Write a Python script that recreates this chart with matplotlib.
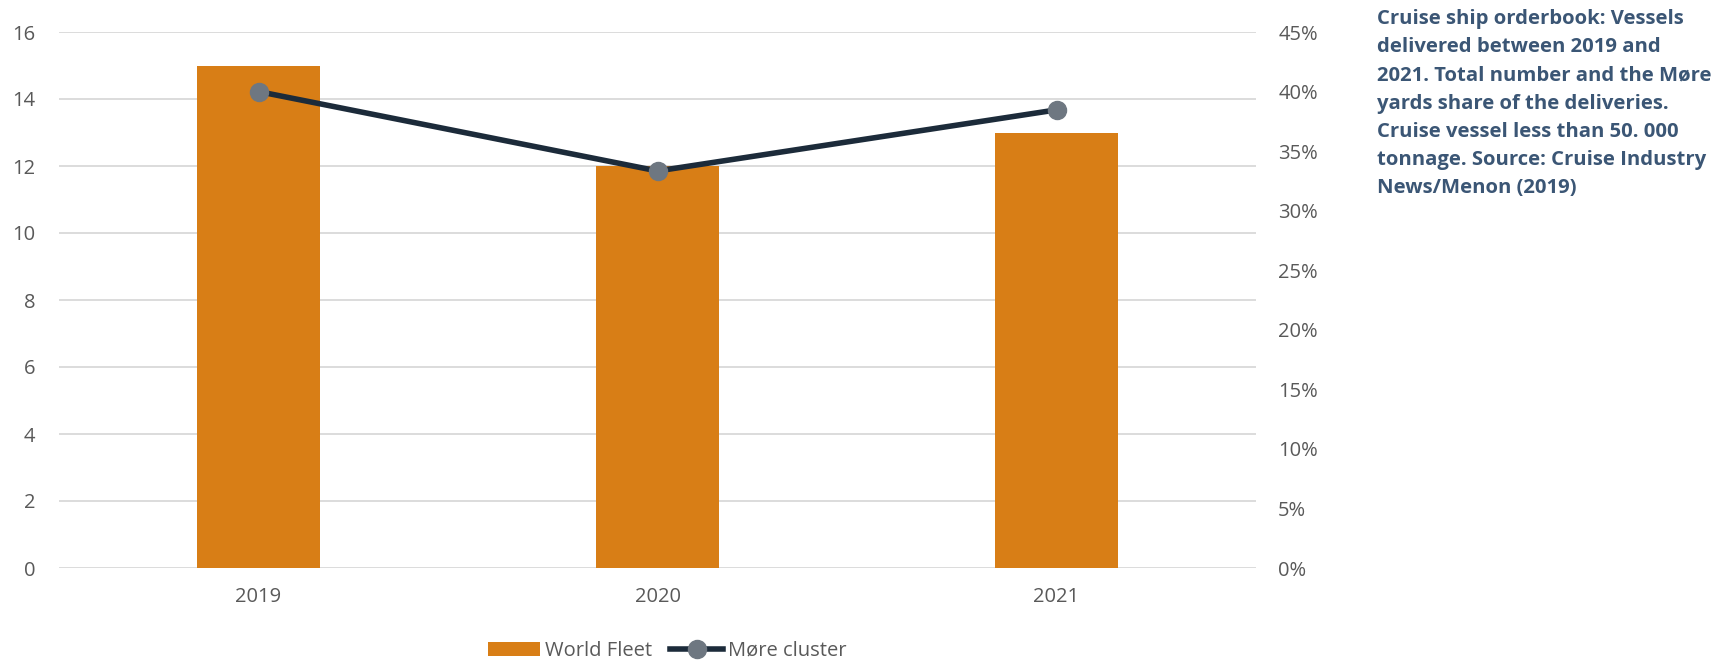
import matplotlib.pyplot as plt
from matplotlib.ticker import PercentFormatter

years = ["2019", "2020", "2021"]
world_fleet = [15, 12, 13]
more_share = [6 / 15 * 100, 4 / 12 * 100, 5 / 13 * 100]

note = ("Cruise ship orderbook: Vessels\n"
        "delivered between 2019 and\n"
        "2021. Total number and the Møre\n"
        "yards share of the deliveries.\n"
        "Cruise vessel less than 50. 000\n"
        "tonnage. Source: Cruise Industry\n"
        "News/Menon (2019)")

plt.rcParams['font.family'] = ['Open Sans', 'DejaVu Sans']

fig = plt.figure(figsize=(17.17, 6.62), dpi=100)
ax = fig.add_axes([59 / 1717, 94 / 662, 1197 / 1717, 536 / 662])
ax2 = ax.twinx()

x = range(len(years))
ax.bar(x, world_fleet, width=0.31, color="#D87E16", label="World Fleet", zorder=2)
ax2.plot(x, more_share, color="#1C2B3A", lw=4, marker="o", ms=13,
         mfc="#6E7781", mec="#6E7781", label="Møre cluster", zorder=3)

ax.set_xlim(-0.5, 2.5)
ax.set_ylim(0, 16)
ax.set_yticks(range(0, 17, 2))
ax2.set_ylim(0, 45)
ax2.set_yticks(range(0, 46, 5))
ax2.yaxis.set_major_formatter(PercentFormatter(decimals=0))
ax.set_xticks(list(x))
ax.set_xticklabels(years)

ax.grid(axis="y", color="#D9D9D9", lw=1.3, zorder=0)
for a in (ax, ax2):
    for s in a.spines.values():
        s.set_visible(False)
    a.tick_params(length=0, labelsize=14.5, labelcolor="#595959")
ax.tick_params(axis="y", pad=17)
ax2.tick_params(axis="y", pad=16)
ax.tick_params(axis="x", pad=14)
ax.set_zorder(ax2.get_zorder() - 1)
ax2.patch.set_visible(False)

h1, l1 = ax.get_legend_handles_labels()
h2, l2 = ax2.get_legend_handles_labels()
fig.legend(h1 + h2, l1 + l2, loc="center", bbox_to_anchor=(667 / 1717, 1 - 651 / 662),
           ncol=2, frameon=False, fontsize=14.5, labelcolor="#595959",
           handlelength=2.6, handleheight=0.75, columnspacing=0.9, handletextpad=0.25)

fig.text(1377 / 1717, 1 - 9 / 662, note, ha="left", va="top", fontsize=14.6,
         fontweight="bold", color="#3B5675", linespacing=1.55)

fig.savefig("out.png", dpi=100)
